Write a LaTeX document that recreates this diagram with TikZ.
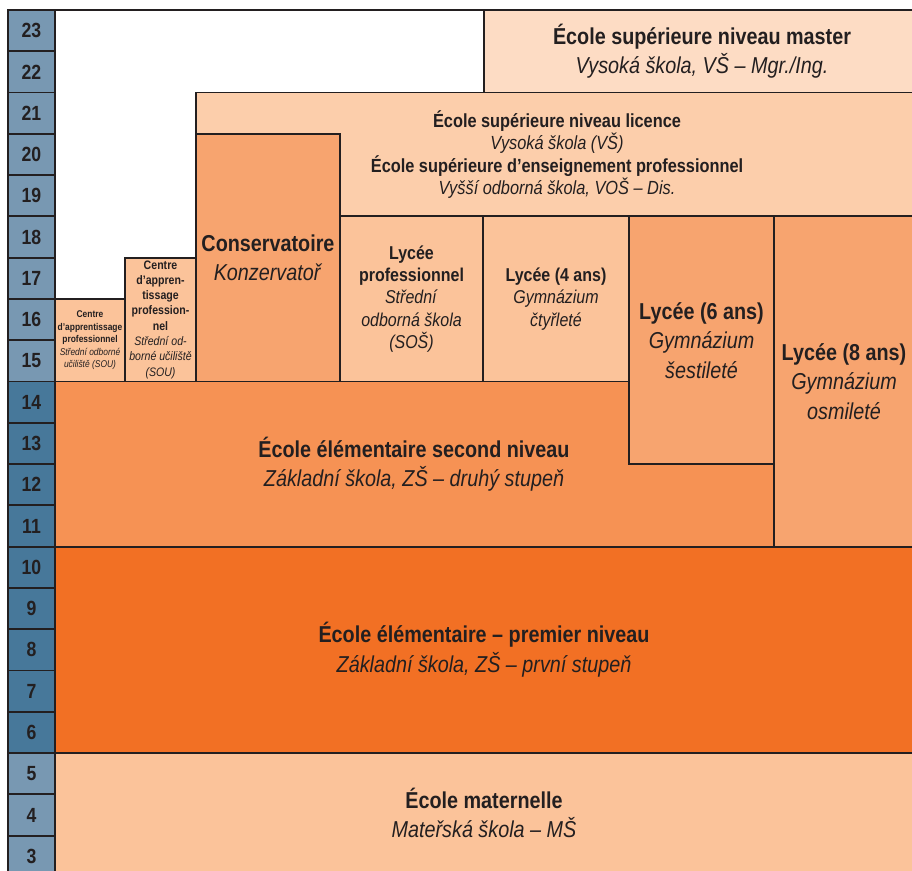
\documentclass[tikz,border=0pt]{standalone}
\usepackage{fontspec}
\setmainfont{Liberation Sans}[FakeStretch=0.86]
\definecolor{ink}{HTML}{231F20}
\definecolor{blueL}{HTML}{7898B2}
\definecolor{blueD}{HTML}{47789A}
\definecolor{cMaster}{HTML}{FDDCC4}
\definecolor{cLic}{HTML}{FCCEAB}
\definecolor{cLight}{HTML}{FBC39A}
\definecolor{cMid}{HTML}{F7A46F}
\definecolor{cSecond}{HTML}{F69254}
\definecolor{cFirst}{HTML}{F27024}
\tikzset{
  box/.style={draw=ink, line width=1.8pt},
  agebox/.style={draw=ink, line width=1.8pt},
  agenum/.style={font=\fontsize{20.5}{24}\selectfont\bfseries, text=ink},
  big/.style={align=center, text=ink, font=\fontsize{23}{29.5}\selectfont},
  mid/.style={align=center, text=ink, font=\fontsize{19}{22.5}\selectfont},
  lyc/.style={align=center, text=ink, font=\fontsize{18.6}{22.4}\selectfont},
  small/.style={align=center, text=ink, font=\fontsize{12.3}{15.3}\selectfont},
  tiny/.style={align=center, text=ink, font=\fontsize{9.8}{12.6}\selectfont},
}
\begin{document}
\begin{tikzpicture}[x=1pt,y=41.28pt]
\useasboundingbox (0,2.1667) rectangle (912,23.2422);
% top line
\draw[ink, line width=1.8pt] (8,23) -- (914,23);
% age column
\foreach \k in {3,...,23}{
  \pgfmathsetmacro{\kk}{\k-1}
  \ifnum\k<6 \def\cc{blueL}\else\ifnum\k<15 \def\cc{blueD}\else\def\cc{blueL}\fi\fi
  \filldraw[agebox, fill=\cc] (8,\kk) rectangle (55,\k);
  \node[agenum] (age\k) at (31.5,\k-0.5) {\k};
}
% boxes
\filldraw[box, fill=cMaster] (484,23) rectangle (914,21);
\filldraw[box, fill=cLic] (196,21) rectangle (914,18);
\filldraw[box, fill=cMid] (196,20) rectangle (340,14);
\filldraw[box, fill=cLight] (55,16) rectangle (125,14);
\filldraw[box, fill=cLight] (125,17) rectangle (196,14);
\filldraw[box, fill=cLight] (340,18) rectangle (483,14);
\filldraw[box, fill=cLight] (483,18) rectangle (629,14);
\filldraw[box, fill=cSecond] (55,14) rectangle (914,10);
\filldraw[box, fill=cMid] (629,18) rectangle (774,12);
\filldraw[box, fill=cMid] (774,18) rectangle (914,10);
\filldraw[box, fill=cFirst] (55,10) rectangle (914,5);
\filldraw[box, fill=cLight] (55,5) rectangle (914,1.5);
% texts
\node[big] (master) at (702,22) {\textbf{École supérieure niveau master}\\\textit{Vysoká škola, VŠ – Mgr./Ing.}};
\node[mid] (licence) at (557,19.5) {\textbf{École supérieure niveau licence}\\\textit{Vysoká škola (VŠ)}\\\textbf{École supérieure d’enseignement professionnel}\\\textit{Vyšší odborná škola, VOŠ – Dis.}};
\node[big] (conserv) at (268,17) {\textbf{Conservatoire}\\\textit{Konzervatoř}};
\node[tiny] (centre1) at (90,15) {\textbf{Centre}\\\textbf{d’apprentissage}\\\textbf{professionnel}\\\textit{Střední odborné}\\\textit{učiliště (SOU)}};
\node[small] (centre2) at (160.5,15.5) {\textbf{Centre}\\\textbf{d’appren-}\\\textbf{tissage}\\\textbf{profession-}\\\textbf{nel}\\\textit{Střední od-}\\\textit{borné učiliště}\\\textit{(SOU)}};
\node[lyc] (lycpro) at (411.5,16) {\textbf{Lycée}\\\textbf{professionnel}\\\textit{Střední}\\\textit{odborná škola}\\\textit{(SOŠ)}};
\node[lyc] (lyc4) at (556,16) {\textbf{Lycée (4 ans)}\\\textit{Gymnázium}\\\textit{čtyřleté}};
\node[big] (lyc6) at (701.5,15) {\textbf{Lycée (6 ans)}\\\textit{Gymnázium}\\\textit{šestileté}};
\node[big] (lyc8) at (844,14) {\textbf{Lycée (8 ans)}\\\textit{Gymnázium}\\\textit{osmileté}};
\node[big] (second) at (414,12) {\textbf{École élémentaire second niveau}\\\textit{Základní škola, ZŠ – druhý stupeň}};
\node[big] (first) at (484,7.5) {\textbf{École élémentaire – premier niveau}\\\textit{Základní škola, ZŠ – první stupeň}};
\node[big] (matern) at (484,3.55) {\textbf{École maternelle}\\\textit{Mateřská škola – MŠ}};
\end{tikzpicture}
\end{document}
